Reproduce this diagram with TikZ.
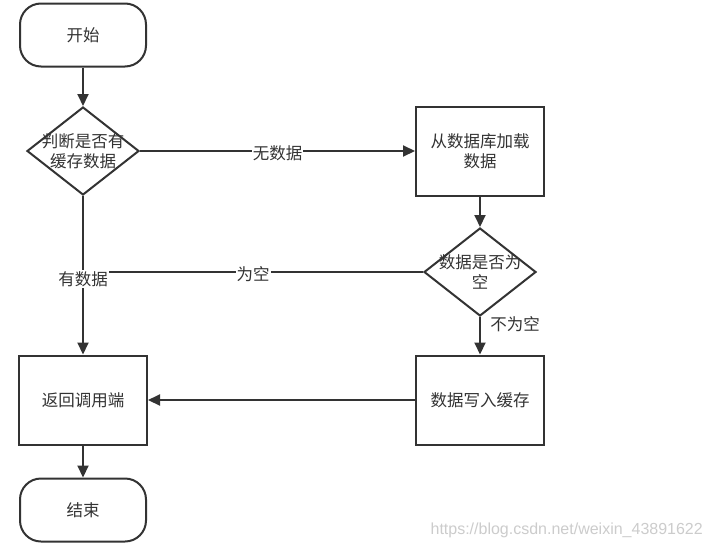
\documentclass[tikz,border=0pt]{standalone}
\usepackage{fontspec}
\newfontfamily\cjk{Noto Sans CJK SC}
\newfontfamily\wmfont{Liberation Sans}
\usetikzlibrary{arrows.meta,shapes.geometric}
\definecolor{ink}{HTML}{333333}
\tikzset{
  base/.style={draw=ink, line width=2pt, fill=white, inner sep=0pt},
  term/.style={base, rounded corners=21pt, minimum width=126pt, minimum height=63pt},
  procbox/.style={base, minimum width=128pt, minimum height=89pt},
  dia/.style={base, diamond, minimum width=112pt, minimum height=88pt},
  txt/.style={text=ink, font=\cjk\fontsize{16.5}{20}\selectfont, align=center},
  conn/.style={draw=ink, line width=2pt},
  arr/.style={conn, -{Triangle[length=12pt,width=11pt]}},
  lbl/.style={txt, fill=white, inner sep=1pt},
}
\begin{document}
\begin{tikzpicture}[x=1pt,y=-1pt]
\useasboundingbox (0,0) rectangle (708,549);
\fill[white] (0,0) rectangle (708,549);
% nodes
\node[term] (start) at (83,35) {};
\node[txt] at (start) {开始};
\node[dia] (d1) at (83,151) {};
\node[txt] at (d1) {判断是否有\\缓存数据};
\node[procbox] (load) at (480,151) {};
\node[txt] at (load) {从数据库加载\\数据};
\node[dia] (d2) at (480,272) {};
\node[txt] at (d2) {数据是否为\\空};
\node[procbox] (ret) at (83,400) {};
\node[txt] at (ret) {返回调用端};
\node[procbox] (write) at (480,400) {};
\node[txt] at (write) {数据写入缓存};
\node[term] (stop) at (83,510) {};
\node[txt] at (stop) {结束};
% connectors
\coordinate (join) at (d2.west -| d1.south);
\draw[conn] (d2.west) -- node[lbl, midway, yshift=-2pt] {为空} (join);
\draw[arr] (start) -- (d1);
\draw[arr] (d1) -- node[lbl, midway, yshift=-2pt] {无数据} (load);
\draw[arr] (load) -- (d2);
\draw[arr] (d1) -- (ret);
\node[lbl] (has) at (83,279) {有数据};
\draw[arr] (d2) -- node[txt, pos=0.2, right, xshift=6pt] {不为空} (write);
\draw[arr] (write) -- (ret);
\draw[arr] (ret) -- (stop);
% watermark
\node[text=black!20, font=\wmfont\fontsize{16}{18}\selectfont, anchor=east, inner sep=0pt] (wm) at (703,530) {https://blog.csdn.net/weixin\_43891622};
\end{tikzpicture}
\end{document}
